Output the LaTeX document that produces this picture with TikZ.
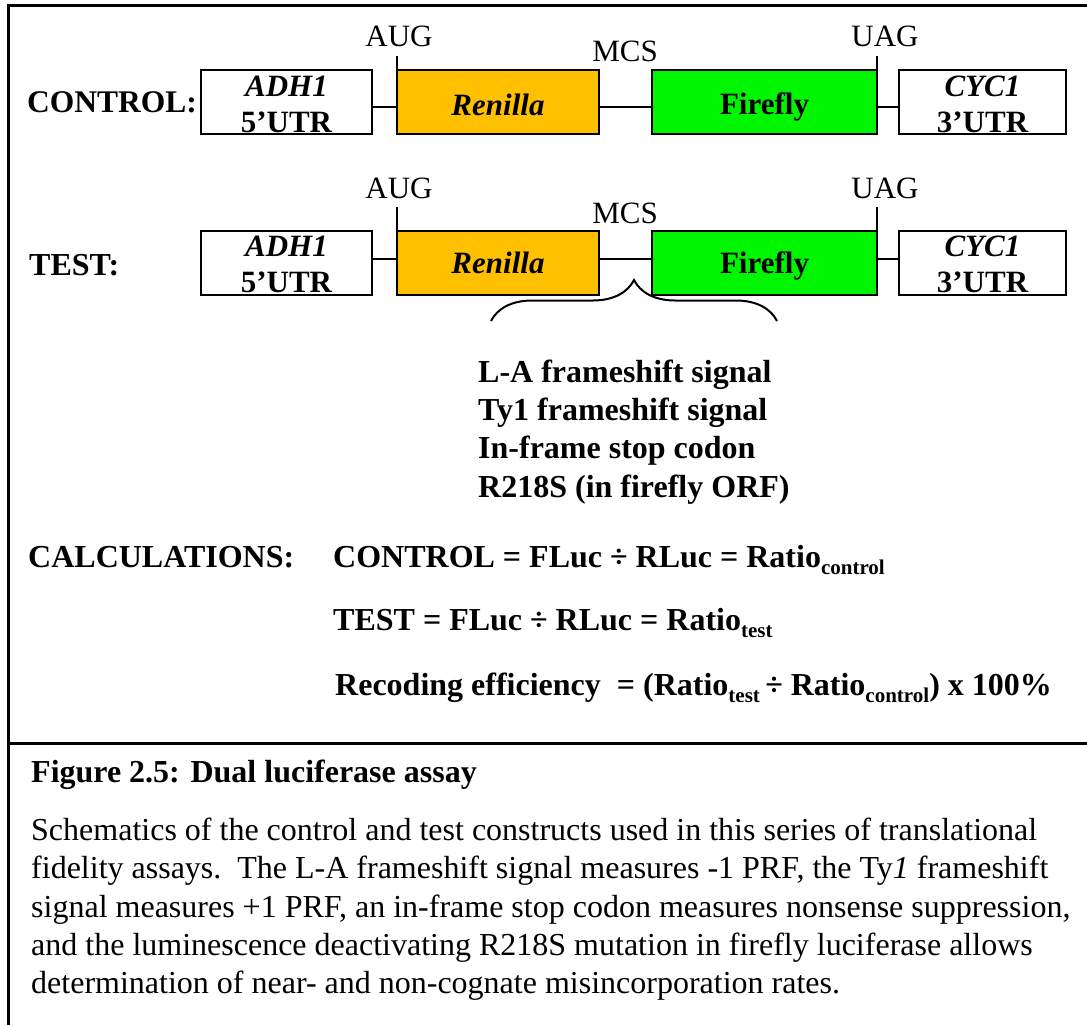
\documentclass[tikz,border=0pt]{standalone}
\usepackage{fontspec}
\setmainfont{Liberation Serif}
\usetikzlibrary{decorations.pathreplacing}
\definecolor{renillacol}{HTML}{FFC000}
\definecolor{fireflycol}{HTML}{00F500}
\tikzset{
  box/.style={draw=black, line width=2pt, inner sep=0pt, outer sep=0pt, minimum height=64pt},
  conn/.style={draw=black, line width=2pt},
  tick/.style={draw=black, line width=2pt},
  big/.style={anchor=base west, inner sep=0pt, font=\fontsize{32}{38}\selectfont\bfseries},
  site/.style={anchor=base, inner sep=0pt, font=\fontsize{31}{37}\selectfont},
  boxtxt/.style={anchor=base, inner sep=0pt, font=\fontsize{31}{37}\selectfont\bfseries},
  body/.style={anchor=base west, inner sep=0pt, font=\fontsize{32}{38}\selectfont},
}
\newcommand{\subtx}[1]{\raisebox{-7pt}{\fontsize{21}{21}\selectfont #1}}
\begin{document}
\begin{tikzpicture}[x=1pt,y=-1pt]
\useasboundingbox (0,0) rectangle (1087,1025);
% frame
\draw[line width=3pt] (8,1030) -- (8,6) -- (1092,6);
\draw[line width=3pt] (8,743) -- (1092,743);

% ---------- CONTROL row ----------
\node[big, font=\fontsize{31.5}{38}\selectfont\bfseries] (ctrlLbl) at (27,112) {CONTROL:};
\node[box, minimum width=171pt] (adhC) at (286.5,102) {};
\node[box, minimum width=202pt, fill=renillacol] (renC) at (498,102) {};
\node[box, minimum width=225pt, fill=fireflycol] (fireC) at (764.5,102) {};
\node[box, minimum width=167pt] (cycC) at (982.5,102) {};
\node[boxtxt] (adhCa) at (286.5,96) {\itshape ADH1};
\node[boxtxt] (adhCb) at (286.5,132) {5’UTR};
\node[boxtxt] (renCt) at (498,115) {\itshape Renilla};
\node[boxtxt] (fireCt) at (764.5,114) {Firefly};
\node[boxtxt] (cycCa) at (982.5,96) {\itshape CYC1};
\node[boxtxt] (cycCb) at (982.5,132) {3’UTR};
\draw[conn] ([yshift=-5pt]adhC.east) -- ([yshift=-5pt]renC.west);
\draw[conn] ([yshift=-5pt]renC.east) -- ([yshift=-5pt]fireC.west);
\draw[conn] ([yshift=-5pt]fireC.east) -- ([yshift=-5pt]cycC.west);
\coordinate (augCtop) at (397,56);
\coordinate (uagCtop) at (877,56);
\draw[tick] (renC.north west) -- (augCtop);
\draw[tick] (fireC.north east) -- (uagCtop);
\node[site] (augC) at (399,47) {AUG};
\node[site] (mcsC) at (625,62) {MCS};
\node[site] (uagC) at (885,47) {UAG};

% ---------- TEST row ----------
\node[big] (testLbl) at (29,275) {TEST:};
\node[box, minimum width=171pt] (adhT) at (286.5,263) {};
\node[box, minimum width=202pt, fill=renillacol] (renT) at (498,263) {};
\node[box, minimum width=225pt, fill=fireflycol] (fireT) at (764.5,263) {};
\node[box, minimum width=167pt] (cycT) at (982.5,263) {};
\node[boxtxt] (adhTa) at (286.5,256) {\itshape ADH1};
\node[boxtxt] (adhTb) at (286.5,292) {5’UTR};
\node[boxtxt] (renTt) at (498,273) {\itshape Renilla};
\node[boxtxt] (fireTt) at (764.5,273) {Firefly};
\node[boxtxt] (cycTa) at (982.5,256) {\itshape CYC1};
\node[boxtxt] (cycTb) at (982.5,292) {3’UTR};
\draw[conn] ([yshift=4pt]adhT.east) -- ([yshift=4pt]renT.west);
\draw[conn] ([yshift=4pt]renT.east) -- ([yshift=4pt]fireT.west);
\draw[conn] ([yshift=4pt]fireT.east) -- ([yshift=4pt]cycT.west);
\coordinate (augTtop) at (397,207);
\coordinate (uagTtop) at (877,207);
\draw[tick] (renT.north west) -- (augTtop);
\draw[tick] (fireT.north east) -- (uagTtop);
\node[site] (augT) at (399,198) {AUG};
\node[site] (mcsT) at (625,223) {MCS};
\node[site] (uagT) at (885,198) {UAG};

% brace
\coordinate (brL) at (491,321);
\coordinate (brR) at (777,321);
\draw[line width=2pt, decorate, decoration={brace, amplitude=41pt}] (brL) -- (brR);

% list
\node[big] (l1) at (478,382) {L-A frameshift signal};
\node[big] (l2) at (478,420) {Ty1 frameshift signal};
\node[big] (l3) at (478,458) {In-frame stop codon};
\node[big] (l4) at (478,497) {R218S (in firefly ORF)};

% calculations
\node[big] (calc) at (28,567) {CALCULATIONS:};
\node[big] (eq1) at (333,567) {CONTROL = FLuc ÷ RLuc = Ratio\subtx{control}};
\node[big] (eq2) at (333,630) {TEST = FLuc ÷ RLuc = Ratio\subtx{test}};
\node[big] (eq3) at (335,695) {Recoding efficiency \ = (Ratio\subtx{test}\,÷ Ratio\subtx{control}) x 100\%};

% caption
\node[big] (figt) at (31,782) {Figure 2.5: Dual luciferase assay};
\node[body] (b1) at (31,840) {Schematics of the control and test constructs used in this series of translational};
\node[body] (b2) at (31,878) {fidelity assays.\ \ The L-A frameshift signal measures -1 PRF, the Ty\textit{1} frameshift};
\node[body] (b3) at (31,917) {signal measures +1 PRF, an in-frame stop codon measures nonsense suppression,};
\node[body] (b4) at (31,955) {and the luminescence deactivating R218S mutation in firefly luciferase allows};
\node[body] (b5) at (31,993) {determination of near- and non-cognate misincorporation rates.};
\end{tikzpicture}
\end{document}
